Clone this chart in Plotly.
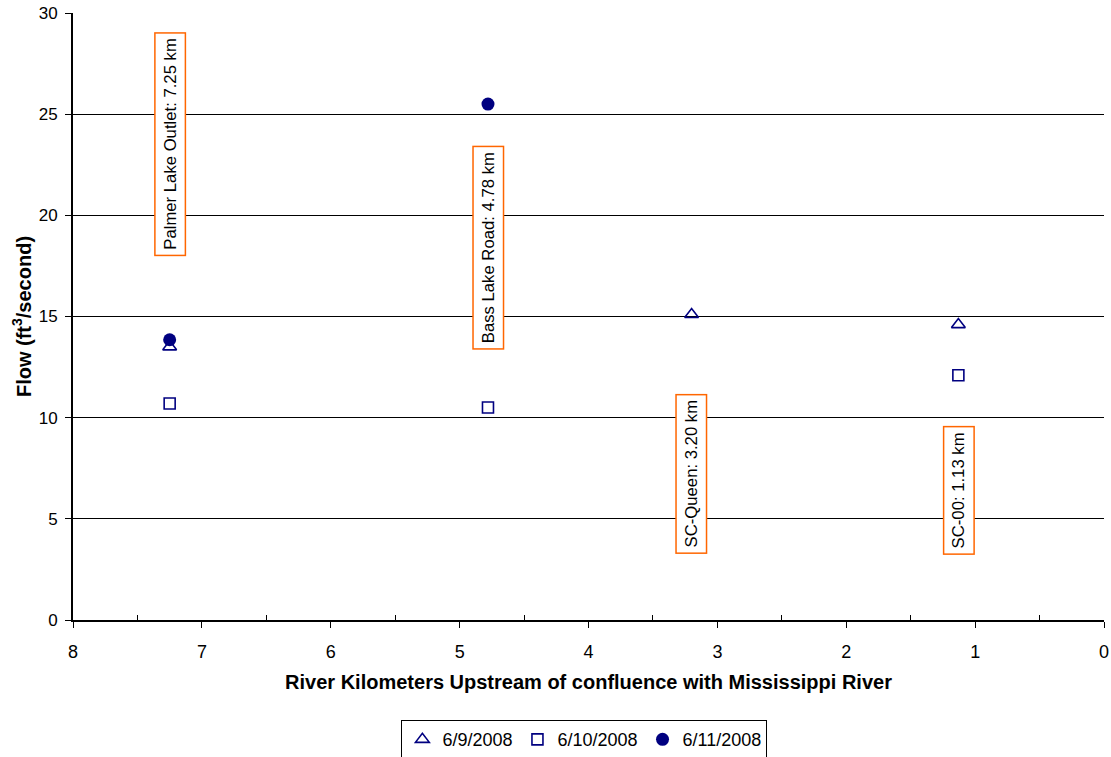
import plotly.graph_objects as go

x_0609 = [7.25, 3.20, 1.13]
y_0609 = [13.5, 15.1, 14.6]
x_0610 = [7.25, 4.78, 1.13]
y_0610 = [10.7, 10.5, 12.1]
x_0611 = [7.25, 4.78]
y_0611 = [13.85, 25.5]

site_names = ["Palmer Lake Outlet: 7.25 km", "Bass Lake Road: 4.78 km", "SC-Queen: 3.20 km", "SC-00: 1.13 km"]
site_x = [7.25, 4.78, 3.20, 1.13]
site_label_y = [23.5, 18.4, 7.2, 6.4]

navy = "#000080"
font = "Liberation Sans, Arial, sans-serif"

fig = go.Figure()
fig.add_trace(go.Scatter(x=x_0609, y=y_0609, mode="markers", name="6/9/2008",
                         marker=dict(symbol="triangle-up-open", size=12, color=navy, line=dict(width=1.6, color=navy))))
fig.add_trace(go.Scatter(x=x_0610, y=y_0610, mode="markers", name="6/10/2008",
                         marker=dict(symbol="square-open", size=11, color=navy, line=dict(width=1.6, color=navy))))
fig.add_trace(go.Scatter(x=x_0611, y=y_0611, mode="markers", name="6/11/2008",
                         marker=dict(symbol="circle", size=13, color=navy)))

for name, sx, sy in zip(site_names, site_x, site_label_y):
    fig.add_annotation(x=sx, y=sy, xref="x", yref="y", text=name, showarrow=False,
                       textangle=-90, font=dict(family=font, size=16.7, color="black"),
                       bordercolor="#FF6600", borderwidth=1.5, borderpad=5, bgcolor="white")

fig.update_layout(
    template="none",
    width=1111, height=757,
    margin=dict(l=73, r=7, t=13, b=137, autoexpand=False),
    paper_bgcolor="white", plot_bgcolor="white",
    font=dict(family=font, size=17, color="black"),
    showlegend=True,
    legend=dict(orientation="h", x=0.496, xanchor="center", y=-0.165, yanchor="top",
                bordercolor="black", borderwidth=1, font=dict(size=18), itemwidth=30,
                tracegroupgap=0),
    xaxis=dict(range=[8, 0], autorange=False, automargin=False, tickmode="array", tickvals=list(range(0, 9)),
               showgrid=False, zeroline=False, showline=True, linecolor="black", linewidth=1.5,
               ticks="outside", ticklen=6, tickcolor="black", ticklabelstandoff=9,
               tickfont=dict(size=18),
               minor=dict(tickvals=[0.5, 1.5, 2.5, 3.5, 4.5, 5.5, 6.5, 7.5], ticks="inside", ticklen=5, tickcolor="black"),
               title=dict(text="<b>River Kilometers Upstream of confluence with Mississippi River</b>", font=dict(size=20), standoff=14)),
    yaxis=dict(range=[0, 30], autorange=False, automargin=False, tickmode="array", tickvals=[0, 5, 10, 15, 20, 25, 30],
               showgrid=True, gridcolor="black", gridwidth=1, zeroline=False,
               showline=True, linecolor="black", linewidth=2,
               ticks="outside", ticklen=6, tickcolor="black", ticklabelstandoff=4,
               tickfont=dict(size=17),
               title=dict(text="<b>Flow (ft<sup>3</sup>/second)</b>", font=dict(size=20), standoff=2)),
)

fig.write_html("out.html", config={"displayModeBar": False},
               post_script="document.body.style.margin='0';document.body.style.padding='0';")
